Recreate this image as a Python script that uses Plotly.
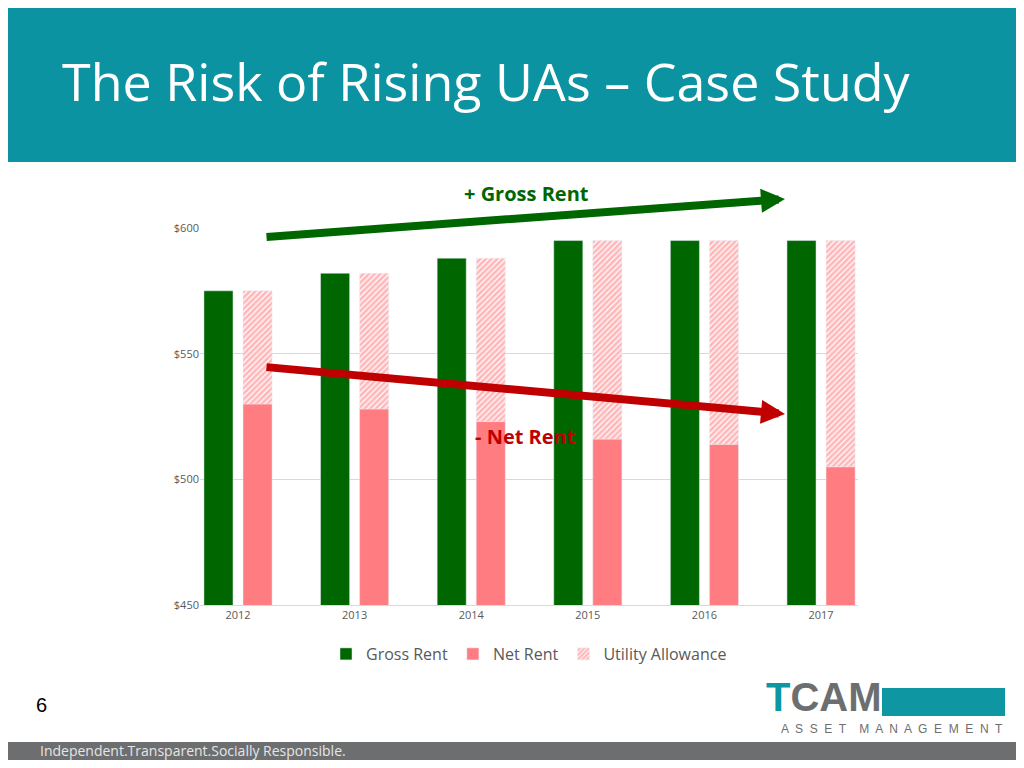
import plotly.graph_objects as go

years = ["2012", "2013", "2014", "2015", "2016", "2017"]
gross = [575, 582, 588, 595, 595, 595]
net = [530, 528, 523, 516, 514, 505]
ua = [g - n for g, n in zip(gross, net)]

OFF = 8
W, H = 1008, 752
L, T = 200 - OFF, 228 - OFF
R, B = W - (858 - OFF), H - (605 - OFF)
pw, ph = W - L - R, H - T - B
def px(x): return (x - OFF - L) / pw
def py(y): return (H - B - (y - OFF)) / ph

fig = go.Figure()
fig.add_bar(x=years, y=gross, name="Gross Rent", marker_color="#006600", offsetgroup="g")
fig.add_bar(x=years, y=net, name="Net Rent", marker_color="#FF7C80", offsetgroup="n")
fig.add_bar(x=years, y=ua, base=net, name="Utility Allowance", offsetgroup="n",
            marker=dict(color="white", pattern=dict(shape="/", fgcolor="#FF6F74", bgcolor="white", size=4, solidity=0.7)))

shapes = [
    dict(type="rect", xref="paper", yref="paper", x0=px(0), x1=px(1030), y0=py(0), y1=py(162),
         fillcolor="#0C93A1", line_width=0, layer="below"),
    dict(type="rect", xref="paper", yref="paper", x0=px(0), x1=px(1030), y0=py(742), y1=py(770),
         fillcolor="#6D6E70", line_width=0),
    dict(type="rect", xref="paper", yref="paper", x0=px(882), x1=px(1005), y0=py(688), y1=py(716),
         fillcolor="#0E97A3", line_width=0),
]
ann = [
    dict(text="The Risk of Rising UAs – Case Study", x=px(60), y=py(80), xanchor="left", yanchor="middle",
         font=dict(color="white", size=52, family="Open Sans")),
    dict(text="<b>+ Gross Rent</b>", x=px(526), y=py(178), font=dict(color="#006600", size=20, family="Open Sans")),
    dict(text="<b>- Net Rent</b>", x=px(525), y=py(436), font=dict(color="#C00000", size=20, family="Open Sans")),
    dict(text="", x=px(785), y=py(199), ax=265 - 785, ay=237 - 199, showarrow=True, arrowhead=2,
         arrowwidth=8, arrowsize=0.6, arrowcolor="#006600"),
    dict(text="", x=px(785), y=py(414), ax=265 - 785, ay=367 - 414, showarrow=True, arrowhead=2,
         arrowwidth=8, arrowsize=0.6, arrowcolor="#C00000"),
    dict(text="6", x=px(34), y=py(718), font=dict(size=20, color="black", family="Liberation Sans")),
    dict(text="Independent.Transparent.Socially Responsible.", x=px(38), y=py(762), xanchor="left",
         font=dict(size=14, color="#E6E6E6", family="Open Sans")),
    dict(text="<b><span style='color:#0E97A3'>T</span>CAM</b>", x=px(884), y=py(721), xanchor="right",
         font=dict(size=40, color="#6D6E70", family="Liberation Sans")),
    dict(text="A  S  S  E  T    M  A  N  A  G  E  M  E  N  T", x=px(1005), y=py(738), xanchor="right",
         font=dict(size=12, color="#6D6E70", family="Liberation Sans")),
]
for a in ann:
    a.setdefault("xref", "paper"); a.setdefault("yref", "paper"); a.setdefault("showarrow", False)

fig.update_layout(
    width=W, height=H, margin=dict(l=L, r=R, t=T, b=B), plot_bgcolor="white", paper_bgcolor="white",
    barmode="group", bargap=0.33, bargroupgap=0.256,
    shapes=shapes, annotations=ann,
    font=dict(family="Open Sans", color="#595959"),
    legend=dict(orientation="h", x=0.5, xanchor="center", y=py(654), yanchor="middle",
                font=dict(size=16, color="#595959")),
    yaxis=dict(range=[450, 600], tickvals=[450, 500, 550, 600], ticktext=["$450", "$500", "$550", "$600"],
               gridcolor="#D9D9D9", zeroline=False, tickfont=dict(size=11), showline=False),
    xaxis=dict(range=[-0.326, 5.317], tickfont=dict(size=11), showline=True, linecolor="#D9D9D9"),
)
fig.write_html("out.html")
